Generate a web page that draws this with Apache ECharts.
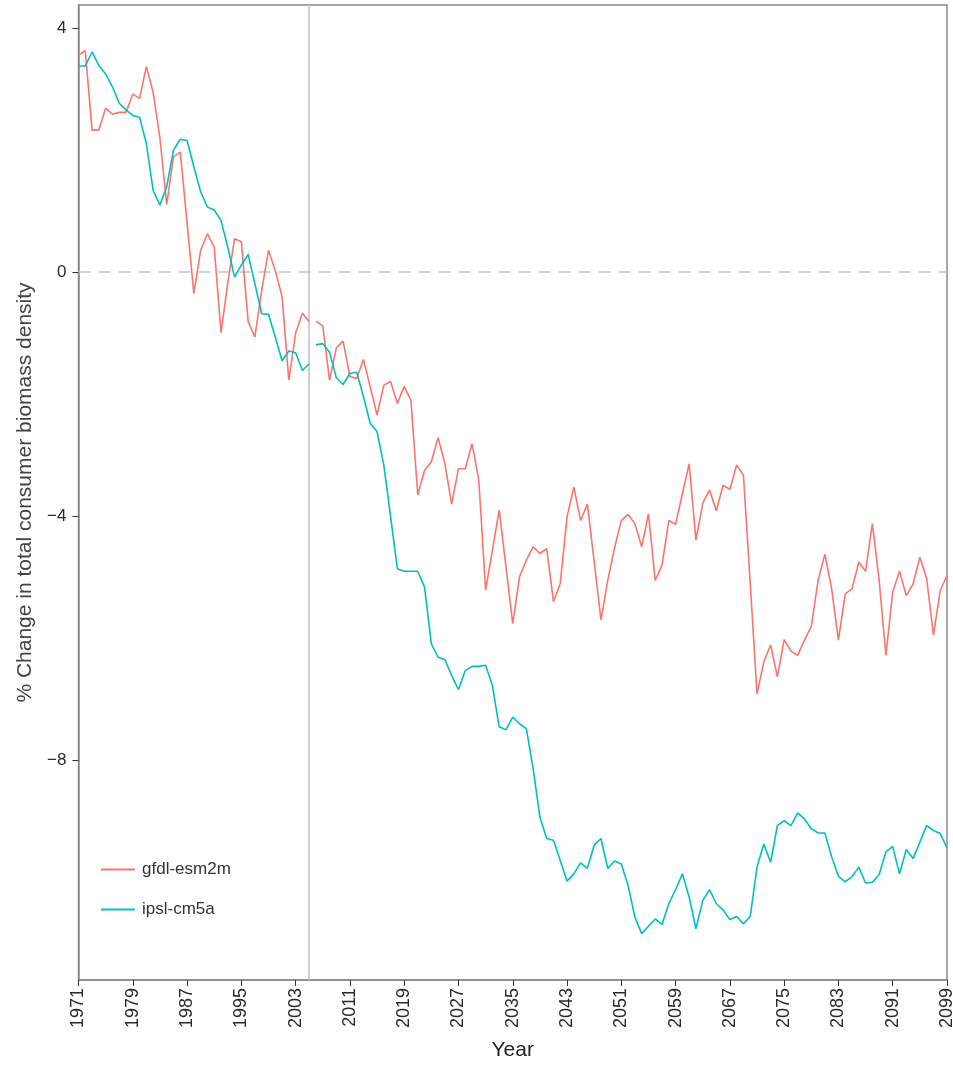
<!DOCTYPE html>
<html>
<head>
<meta charset="utf-8">
<script src="https://cdn.jsdelivr.net/npm/echarts@6/dist/echarts.min.js"></script>
<style>
html,body{margin:0;padding:0;background:#fff;}
#chart{width:953px;height:1065px;}
</style>
</head>
<body>
<div id="chart"></div>
<script>
// Years 1971..2099
const startYear = 1971;
const endYear = 2099;
const splitYear = 2005; // historical ends, projections start the year after
const seriesNames = ['gfdl-esm2m', 'ipsl-cm5a'];
const yTicks = [-8, -4, 0, 4];
const xTicks = [1971,1979,1987,1995,2003,2011,2019,2027,2035,2043,2051,2059,2067,2075,2083,2091,2099];

const gfdl = [
  3.56, 3.63, 2.33, 2.33, 2.69, 2.59, 2.62, 2.62, 2.92, 2.85,   // 1971-1980
  3.37, 2.95, 2.20, 1.11, 1.89, 1.97, 0.81, -0.35, 0.36, 0.63,  // 1981-1990
  0.41, -0.99, -0.18, 0.55, 0.50, -0.81, -1.06, -0.30, 0.36, 0.03, // 1991-2000
  -0.40, -1.77, -1.00, -0.67, -0.81, -0.80, -0.88, -1.77, -1.24, -1.13, // 2001-2010
  -1.71, -1.74, -1.43, -1.88, -2.34, -1.85, -1.79, -2.15, -1.87, -2.10, // 2011-2020
  -3.65, -3.25, -3.11, -2.71, -3.14, -3.80, -3.22, -3.22, -2.81, -3.41, // 2021-2030
  -5.21, -4.56, -3.90, -4.83, -5.76, -4.99, -4.72, -4.50, -4.61, -4.53, // 2031-2040
  -5.40, -5.10, -4.01, -3.52, -4.07, -3.80, -4.74, -5.70, -5.05, -4.52, // 2041-2050
  -4.07, -3.97, -4.12, -4.50, -3.96, -5.05, -4.80, -4.07, -4.13, -3.63, // 2051-2060
  -3.14, -4.39, -3.79, -3.57, -3.91, -3.49, -3.56, -3.16, -3.33, -5.10, // 2061-2070
  -6.91, -6.39, -6.11, -6.63, -6.02, -6.21, -6.28, -6.03, -5.81, -5.05, // 2071-2080
  -4.62, -5.19, -6.03, -5.27, -5.19, -4.75, -4.90, -4.12, -5.05, -6.28, // 2081-2090
  -5.24, -4.90, -5.30, -5.11, -4.67, -5.02, -5.95, -5.22, -4.97         // 2091-2099
];

const ipsl = [
  3.38, 3.38, 3.61, 3.39, 3.25, 3.04, 2.77, 2.66, 2.57, 2.54,   // 1971-1980
  2.11, 1.34, 1.10, 1.40, 2.00, 2.18, 2.16, 1.73, 1.32, 1.07,   // 1981-1990
  1.02, 0.85, 0.41, -0.08, 0.12, 0.29, -0.19, -0.68, -0.69, -1.06, // 1991-2000
  -1.45, -1.29, -1.32, -1.61, -1.50, -1.19, -1.17, -1.31, -1.73, -1.84, // 2001-2010
  -1.66, -1.64, -2.04, -2.48, -2.61, -3.16, -4.01, -4.86, -4.90, -4.90, // 2011-2020
  -4.90, -5.16, -6.09, -6.31, -6.35, -6.61, -6.84, -6.53, -6.46, -6.46, // 2021-2030
  -6.44, -6.77, -7.45, -7.50, -7.29, -7.40, -7.48, -8.13, -8.93, -9.28, // 2031-2040
  -9.31, -9.64, -9.98, -9.86, -9.68, -9.77, -9.39, -9.28, -9.77, -9.65, // 2041-2050
  -9.70, -10.05, -10.57, -10.84, -10.72, -10.60, -10.69, -10.35, -10.12, -9.86, // 2051-2060
  -10.24, -10.76, -10.30, -10.12, -10.35, -10.45, -10.61, -10.56, -10.68, -10.56, // 2061-2070
  -9.75, -9.37, -9.67, -9.07, -8.99, -9.07, -8.86, -8.96, -9.12, -9.19, // 2071-2080
  -9.19, -9.58, -9.90, -9.99, -9.91, -9.75, -10.01, -10.00, -9.87, -9.50, // 2081-2090
  -9.41, -9.86, -9.46, -9.61, -9.34, -9.07, -9.15, -9.20, -9.43         // 2091-2099
];

const colors = ['#F8766D', '#00BFC4'];

function pairs(vals, from, to) {
  const out = [];
  for (let y = from; y <= to; y++) out.push([y, vals[y - startYear]]);
  return out;
}

function lineSeries(name, vals, color, from, to) {
  return {
    name: name,
    type: 'line',
    data: pairs(vals, from, to),
    showSymbol: false,
    symbol: 'none',
    lineStyle: { color: color, width: 1.6 },
    itemStyle: { color: color },
    silent: true,
    animation: false,
    z: 5
  };
}

const series = [
  lineSeries(seriesNames[0], gfdl, colors[0], startYear, splitYear),
  lineSeries(seriesNames[0], gfdl, colors[0], splitYear + 1, endYear),
  lineSeries(seriesNames[1], ipsl, colors[1], startYear, splitYear),
  lineSeries(seriesNames[1], ipsl, colors[1], splitYear + 1, endYear)
];
series[0].markLine = {
  silent: true,
  symbol: 'none',
  label: { show: false },
  animation: false,
  data: [
    { xAxis: splitYear, lineStyle: { color: '#c4c4c4', width: 1.6, type: 'solid' } },
    { yAxis: 0, lineStyle: { color: '#c4c4c4', width: 1.6, type: [12, 8] } }
  ]
};

const chart = echarts.init(document.getElementById('chart'), null, { renderer: 'canvas' });
chart.setOption({
  backgroundColor: '#ffffff',
  animation: false,
  textStyle: { fontFamily: 'Liberation Sans, Arial, sans-serif' },
  grid: { left: 78.5, right: 6, top: 5, bottom: 85, containLabel: false, outerBoundsMode: 'none', show: true, borderColor: '#8a8a8a', borderWidth: 1.5, backgroundColor: 'transparent' },
  legend: {
    orient: 'vertical',
    left: 96,
    top: 856,
    itemWidth: 34,
    itemHeight: 2,
    itemGap: 23,
    icon: 'rect',
    data: seriesNames,
    textStyle: { color: '#333', fontSize: 17, fontFamily: 'Liberation Sans, Arial, sans-serif', padding: [0, 0, 0, 2] },
    selectedMode: false
  },
  xAxis: {
    type: 'value',
    min: startYear,
    max: endYear,
    name: 'Year',
    nameLocation: 'middle',
    nameGap: 60,
    nameTextStyle: { fontSize: 21, color: '#222', fontFamily: 'Liberation Sans Narrow, Liberation Sans, Arial, sans-serif' },
    axisLine: { show: true, onZero: false, lineStyle: { color: '#8a8a8a', width: 1.5 } },
    axisTick: { show: true, length: 6, lineStyle: { color: '#333', width: 1 }, customValues: xTicks },
    axisLabel: { rotate: 90, fontSize: 18, color: '#2a2a2a', margin: 8, customValues: xTicks, formatter: v => String(v) },
    splitLine: { show: false }
  },
  yAxis: {
    type: 'value',
    min: -11.6,
    max: 4.38,
    name: '% Change in total consumer biomass density',
    nameLocation: 'middle',
    nameGap: 43,
    nameTextStyle: { fontSize: 21, color: '#444' },
    axisLine: { show: true, onZero: false, lineStyle: { color: '#8a8a8a', width: 1.5 } },
    axisTick: { show: true, length: 6, lineStyle: { color: '#333', width: 1 }, customValues: yTicks },
    axisLabel: { fontSize: 17, color: '#2a2a2a', margin: 12, customValues: yTicks, formatter: v => (v < 0 ? '\u2212' + Math.abs(v) : String(v)) },
    splitLine: { show: false }
  },
  series: series
});
</script>
</body>
</html>
